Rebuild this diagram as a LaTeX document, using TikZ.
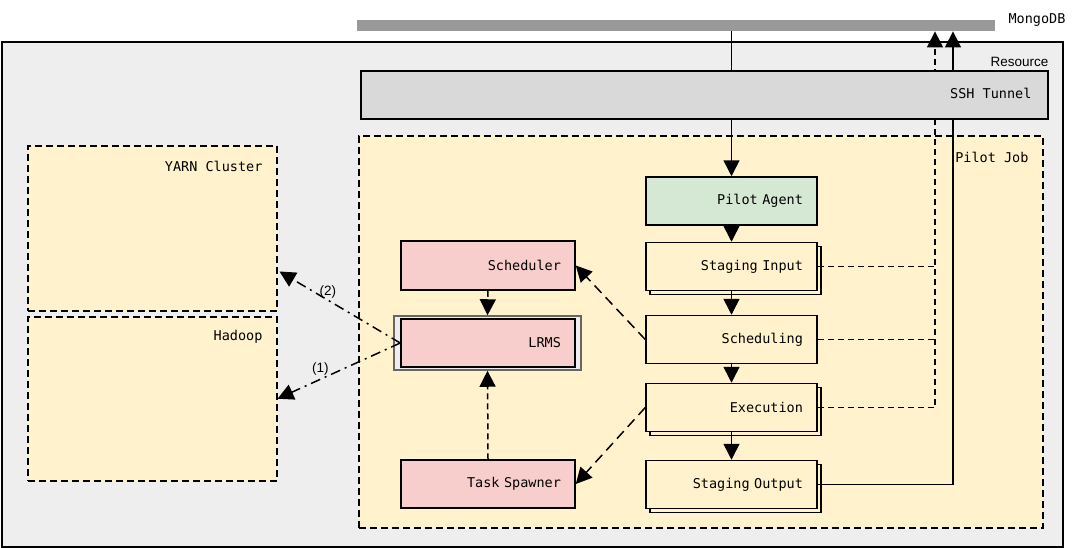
\documentclass[tikz,border=0pt]{standalone}
\usepackage{fontspec}
\setmonofont{DejaVu Sans Mono}
\setsansfont{Liberation Sans}
\usetikzlibrary{arrows.meta,shadows,calc}
\definecolor{resbg}{HTML}{EEEEEE}
\definecolor{sshbg}{HTML}{D9D9D9}
\definecolor{mongogray}{HTML}{999999}
\definecolor{pilotbg}{HTML}{FFF2CC}
\definecolor{agentbg}{HTML}{D5E8D4}
\definecolor{pinkbg}{HTML}{F8CECC}
\definecolor{framegray}{HTML}{666666}
\begin{document}
\begin{tikzpicture}[x=1pt,y=-1pt,
  mono/.style={font=\ttfamily\fontsize{13.5}{15}\selectfont},
  sanslbl/.style={font=\sffamily\fontsize{13.5}{15}\selectfont},
  container/.style={draw, line width=1.5pt, inner sep=0pt, anchor=north west},
  dashbox/.style={container, fill=pilotbg, dash pattern=on 7pt off 4pt},
  stepbox/.style={draw, line width=1.5pt, mono, inner xsep=14pt, inner ysep=0pt,
    align=right, minimum height=48pt},
  rightbox/.style={stepbox, fill=pilotbg, text width=143pt},
  stackbox/.style={rightbox, copy shadow={shadow xshift=4pt, shadow yshift=-4pt}},
  leftbox/.style={stepbox, fill=pinkbg, text width=146pt},
  arr/.style={line width=1.5pt, -{Triangle[length=16pt,width=16pt]}},
  dline/.style={line width=1.5pt, dash pattern=on 6pt off 4pt},
  ddline/.style={line width=1.5pt, dash pattern=on 10pt off 6pt},
  dotline/.style={line width=1.5pt, dash pattern=on 10pt off 5pt on 2pt off 5pt}
]
\useasboundingbox (0,0) rectangle (1085,547);

% resource
\node[container, fill=resbg, minimum width=1061pt, minimum height=505pt] (res) at (1,41) {};
\node[sanslbl, anchor=east] (reslbl) at (1052,62) {Resource};

% mongo bar
\node[fill=mongogray, minimum width=638pt, minimum height=11pt, inner sep=0pt, anchor=north west] (mongo) at (357,20) {};
\node[mono, anchor=west] (mongolbl) at (1005,20) {MongoDB};

% pilot job
\node[dashbox, minimum width=684pt, minimum height=392pt] (pj) at (358,135) {};
\node[mono, anchor=east] (pjlbl) at (1032,157) {Pilot Job};

% yarn and hadoop
\node[dashbox, minimum width=249pt, minimum height=165pt] (yarn) at (27,145) {};
\node[mono, anchor=east] (yarnlbl) at (266,166) {YARN Cluster};
\node[dashbox, minimum width=249pt, minimum height=164pt] (hadoop) at (27,316) {};
\node[mono, anchor=east] (hadooplbl) at (266,337) {Hadoop};

% right column
\node[rightbox, fill=agentbg] (pa) at (731.5,201) {Pilot Agent};
\node[stackbox] (si) at (731.5,266.5) {Staging Input};
\node[rightbox] (sc) at (731.5,339.5) {Scheduling};
\node[stackbox] (ex) at (731.5,407.5) {Execution};
\node[stackbox] (so) at (731.5,484.5) {Staging Output};

% left column
\node[leftbox, minimum height=49pt] (sch) at (488,265.5) {Scheduler};
\node[draw=framegray, fill=resbg, line width=1.5pt, minimum width=187pt, minimum height=54pt, inner sep=0pt] (lrmsf) at (487.5,343) {};
\node[leftbox] (lrms) at (488,343) {LRMS};
\node[leftbox] (ts) at (488,484) {Task Spawner};

% column coordinates
\coordinate (dcol) at (935,407.5);
\coordinate (scol) at (953,484.5);

% connectors
\draw[arr] (mongo.south -| pa.north) -- (pa.north);
\draw[arr] (pa.south) -- (si.north);
\draw[arr] (si.south) -- (sc.north);
\draw[arr] (sc.south) -- (ex.north);
\draw[arr] (ex.south) -- (so.north);

\draw[dline] (si.east) -- (si.east -| dcol);
\draw[dline] (sc.east) -- (sc.east -| dcol);
\draw[dline, arr] (ex.east) -| (dcol |- mongo.south);
\draw[arr] (so.east) -| (scol |- mongo.south);

\draw[ddline, arr] (sc.west) -- (sch.east);
\draw[ddline, arr] (ex.west) -- (ts.east);
\draw[dline, arr] (sch.south) -- (lrmsf.north);
\draw[dline, arr] (ts.north) -- (lrmsf.south);

\draw[dotline, arr] (lrms.west) -- ($(yarn.south east)+(2,-40)$)
  node[pos=0.6, above, sanslbl, inner sep=1pt] (l2) {(2)};
\draw[dotline, arr] (lrms.west) -- (hadoop.east)
  node[pos=0.65, above, sanslbl, inner sep=3pt] (l1) {(1)};

% ssh tunnel on top
\node[draw, fill=sshbg, line width=1.5pt, mono, minimum width=687pt, minimum height=48pt,
  inner sep=0pt, anchor=north west] (ssh) at (360,70) {};
\node[mono, anchor=east] (sshlbl) at (1035,93) {SSH Tunnel};
\end{tikzpicture}
\end{document}
